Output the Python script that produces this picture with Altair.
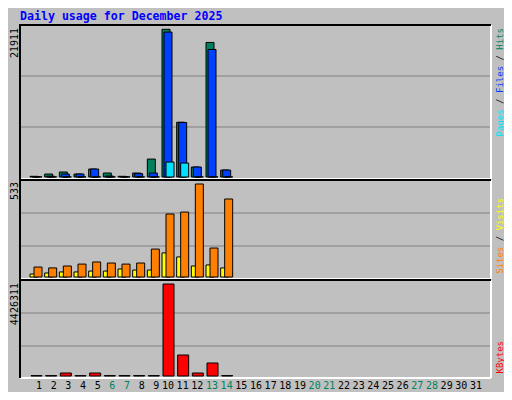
import datetime
import altair as alt
import pandas as pd

# ---- data (December 2025, days 1-14 have data) ----
days = list(range(1, 15))
hits = [100, 440, 740, 440, 1180, 590, 100, 590, 2660, 21911, 8130, 1480, 19960, 1030]
files = [60, 120, 440, 440, 1180, 150, 60, 500, 590, 21500, 8080, 1480, 18920, 1030]
pages = [20, 20, 20, 20, 20, 20, 20, 20, 20, 2220, 2070, 20, 20, 20]
visits = [17, 23, 29, 29, 34, 34, 46, 40, 40, 138, 115, 63, 69, 52]
sites = [57, 52, 63, 74, 86, 80, 74, 80, 160, 361, 372, 533, 166, 447]
kbytes = [20000, 20000, 144000, 20000, 144000, 20000, 20000, 20000, 20000,
          4426311, 1010000, 144000, 625000, 20000]
all_days = list(range(1, 32))
max_labels = ["21911", "533", "4426311"]
title_text = "Daily usage for December 2025"

df = pd.DataFrame({"day": days, "hits": hits, "files": files, "pages": pages,
                   "visits": visits, "sites": sites, "kbytes": kbytes})
lab = pd.DataFrame({
    "day": all_days,
    "label": [str(d) for d in all_days],
    "weekend": [datetime.date(2025, 12, d).weekday() >= 5 for d in all_days],
})
one = pd.DataFrame({"a": [0]})

W, H = 496, 384
BG = "#C0C0C0"
GRID = "#808080"
C_HITS, C_FILES, C_PAGES = "#00805C", "#0040FF", "#00E0FF"
C_VISITS, C_SITES, C_KB = "#FFFF00", "#FF8000", "#FF0000"
MONO = "DejaVu Sans Mono"

xs = alt.Scale(domain=[1, 31], range=[23, 473])
y_top = alt.Scale(domain=[0, 21911], range=[169, 21.3])
y_mid = alt.Scale(domain=[0, 533], range=[269, 176])
y_bot = alt.Scale(domain=[0, 4426311], range=[368, 276])


def bars(field, color, width, off, scale):
    return alt.Chart(df).mark_bar(width=width, xOffset=off, fill=color,
                                  stroke="black", strokeWidth=1).encode(
        x=alt.X("day:Q", scale=xs, axis=None),
        y=alt.Y(f"{field}:Q", scale=scale, axis=None),
    )


def hrule(x1, x2, y, color, w=2):
    return alt.Chart(one).mark_rule(color=color, strokeWidth=w).encode(
        x=alt.value(x1), x2=alt.value(x2), y=alt.value(y))


def vrule(x, y1, y2, color, w=2):
    return alt.Chart(one).mark_rule(color=color, strokeWidth=w).encode(
        x=alt.value(x), y=alt.value(y1), y2=alt.value(y2))


def label(text, x, y, color, size=9, angle=270, align="right", weight="normal"):
    return alt.Chart(one).mark_text(text=text, angle=angle, align=align,
                                    baseline="middle", font=MONO, fontSize=size,
                                    fontWeight=weight, color=color).encode(
        x=alt.value(x), y=alt.value(y))


layers = []

# panels: gridlines and borders
L, R = 12, 483
panels = [(17, 171, [68, 119]), (172, 271, [205, 238]), (272, 370, [305, 338])]
for top, bot, grids in panels:
    for g in grids:
        layers.append(hrule(L, R, g, GRID, 1))
for top, bot, grids in panels:
    layers.append(hrule(L, R, bot, "white"))
    layers.append(vrule(R, top, bot, "white"))
    layers.append(hrule(L - 1, R, top, "black"))
    layers.append(vrule(L, top, bot, "black"))

# bars
layers += [
    bars("hits", C_HITS, 8, -2, y_top),
    bars("files", C_FILES, 8, 0, y_top),
    bars("pages", C_PAGES, 8, 2, y_top),
    bars("visits", C_VISITS, 8, -2, y_mid),
    bars("sites", C_SITES, 8, 2, y_mid),
    bars("kbytes", C_KB, 11, 0.5, y_bot),
]

# day labels
layers.append(alt.Chart(lab).mark_text(align="right", baseline="alphabetic", dx=6,
                                       font=MONO, fontSize=10).encode(
    x=alt.X("day:Q", scale=xs, axis=None),
    y=alt.value(380.5),
    text="label:N",
    color=alt.condition("datum.weekend", alt.value(C_HITS), alt.value("black")),
))

# left max labels
layers.append(label(max_labels[0], 6.5, 20, "black", size=10))
layers.append(label(max_labels[1], 6.5, 174, "black", size=10))
layers.append(label(max_labels[2], 6.5, 275, "black", size=10))

# right legends
w = 5.42
E = 20
layers += [
    label("Hits", 492, E, C_HITS),
    label("/", 492, E + 5 * w, "black"),
    label("Files", 492, E + 7 * w, C_FILES),
    label("/", 492, E + 13 * w, "black"),
    label("Pages", 492, E + 15 * w, C_PAGES),
]
E2 = 190
layers += [
    label("Visits", 492, E2, C_VISITS),
    label("/", 492, E2 + 7 * w, "black"),
    label("Sites", 492, E2 + 9 * w, C_SITES),
]
layers.append(label("KBytes", 492, 333, C_KB))

# title
layers.append(alt.Chart(one).mark_text(text=title_text, align="left", baseline="alphabetic",
                                       font=MONO, fontSize=11.6, fontWeight="bold",
                                       color="#0000FF").encode(
    x=alt.value(12), y=alt.value(12)))

chart = alt.layer(*layers).resolve_scale(y="independent").properties(
    width=W, height=H, autosize="none", padding=0, background=BG
).configure_view(stroke=None)

chart.save("out.html", embed_options={"renderer": "svg", "actions": False})
